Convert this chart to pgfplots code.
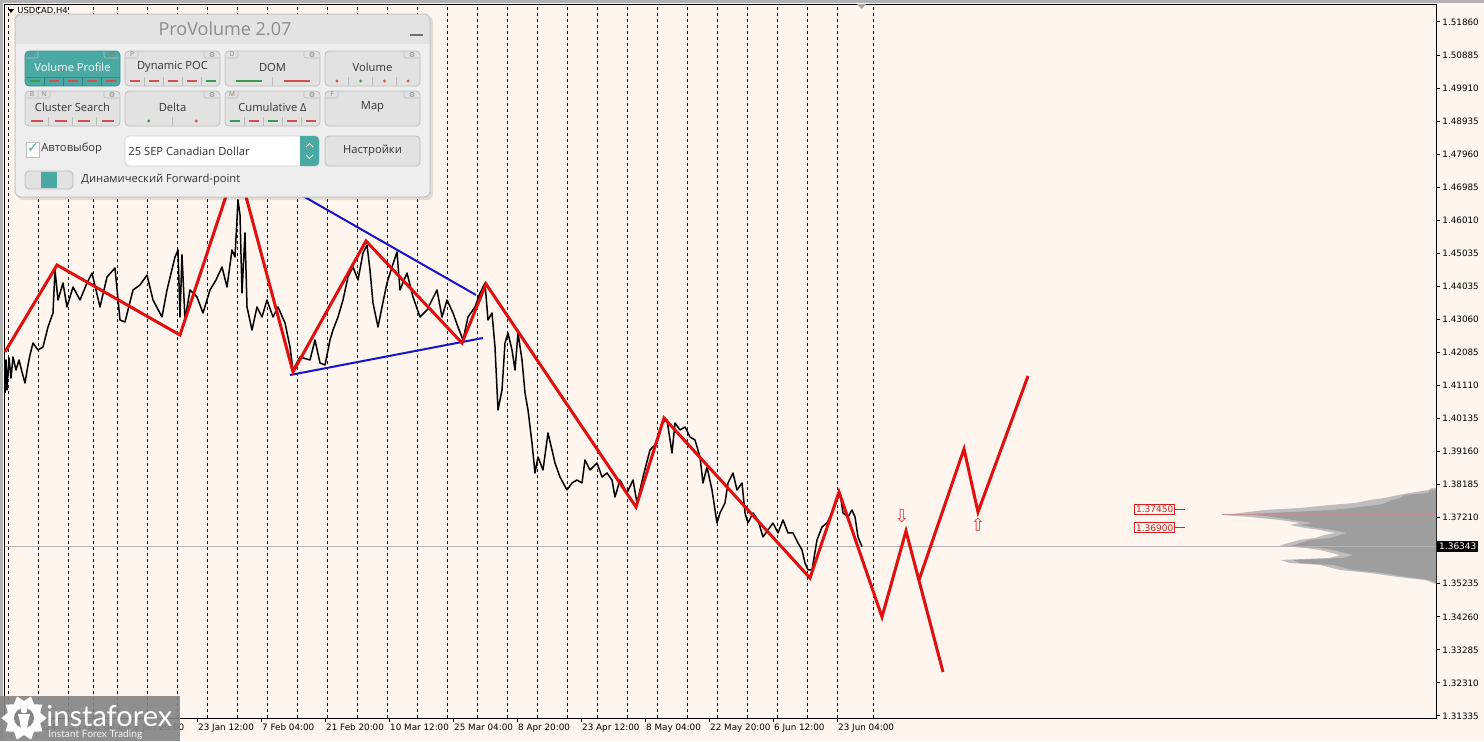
\documentclass[border=0pt]{standalone}
\usepackage{pgfplots}
\pgfplotsset{compat=1.18}
\usepackage{fontspec}
\usetikzlibrary{shapes.geometric}
\setmainfont{DejaVu Sans}
\newfontfamily\dvs{DejaVu Sans}
\newfontfamily\pfont{Open Sans}
\newfontfamily\lfont{Lato}
\newcommand{\fs}[1]{\fontsize{#1}{#1}\selectfont}
\definecolor{bg}{HTML}{FDF5EE}
\definecolor{zzred}{HTML}{E01010}
\definecolor{tlblue}{HTML}{1414CC}
\definecolor{prof}{HTML}{9E9E9E}
\definecolor{proflt}{HTML}{BDBDBD}
\definecolor{poc}{HTML}{C49090}
\definecolor{lvlred}{HTML}{D42020}
\definecolor{arrred}{HTML}{E04848}
\definecolor{pbody}{HTML}{EEEEEE}
\definecolor{phead}{HTML}{E3E3E3}
\definecolor{pborder}{HTML}{C4C4C4}
\definecolor{ptitle}{HTML}{8C8C8C}
\definecolor{pbtn}{HTML}{E2E2E2}
\definecolor{pbtnb}{HTML}{BDBDBD}
\definecolor{ptext}{HTML}{333333}
\definecolor{teal}{HTML}{4AA9A3}
\definecolor{mred}{HTML}{D05050}
\definecolor{mgreen}{HTML}{3C9A50}
\definecolor{logogray}{HTML}{858585}
\begin{document}
\begin{tikzpicture}
\begin{scope}[x=0.5pt,y=-0.5pt]
\fill[bg] (0,0) rectangle (1484,741);
\fill[gray!60] (0,0) rectangle (1484,3);
\fill[gray!60] (0,0) rectangle (3,741);
\end{scope}
\begin{axis}[
  at={(2.5pt,-359pt)}, anchor=south west,
  width=715.5pt, height=357pt, scale only axis,
  xmin=5, xmax=1436, ymin=1.31274, ymax=1.52392,
  clip=false,
  axis line style={black, line width=0.5pt},
  tick style={black, line width=0.5pt},
  major tick length=2pt, tick align=outside,
  xtick pos=bottom, ytick pos=right, yticklabel pos=right,
  /pgf/number format/assume math mode=true,
  tick label style={font=\dvs\fs{4.4pt}, inner sep=0pt},
  x tick label style={anchor=north west, xshift=0.4pt, yshift=-0.6pt},
  y tick label style={anchor=west, xshift=1pt},
  xtick={5,69,133,197,261,325,389,453,517,581,645,709,773,837},
  xticklabels={6 Dec 2024,23 Dec 04:00,8 Jan 20:00,23 Jan 12:00,7 Feb 04:00,21 Feb 20:00,10 Mar 12:00,25 Mar 04:00,8 Apr 20:00,23 Apr 12:00,8 May 04:00,22 May 20:00,6 Jun 12:00,23 Jun 04:00},
  extra x ticks={8,38,68,93,117,147,177,207,237,267,297,327,357,387,417,447,477,507,537,567,597,627,657,687,717,747,777,807,837,873},
  extra x tick labels={},
  extra x tick style={grid=major, major tick length=0pt, major grid style={black, line width=0.45pt, dash pattern=on 1.5pt off 1.5pt}},
  ytick={1.31335,1.32312,1.33290,1.34267,1.35245,1.36222,1.37199,1.38177,1.39154,1.40131,1.41109,1.42086,1.43064,1.44041,1.45018,1.45996,1.46973,1.47950,1.48928,1.49905,1.50883,1.51860},
  yticklabels={1.31335,1.32310,1.33285,1.34260,1.35235,{},1.37210,1.38185,1.39160,1.40135,1.41110,1.42085,1.43060,1.44035,1.45035,1.46010,1.46985,1.47960,1.48935,1.49910,1.50885,1.51860},
]
% volume profile (light outer layer, then main body)
\addplot[draw=none, fill=proflt] coordinates {
(1436,1.38077) (1432,1.38077) (1428,1.38018) (1410,1.37930) (1398,1.37871) (1385,1.37782)
(1370,1.37723) (1355,1.37634) (1330,1.37575) (1300,1.37486) (1265,1.37427) (1240,1.37338)
(1222,1.37279) (1250,1.37220) (1280,1.37131) (1300,1.37042) (1290,1.36983) (1305,1.36894)
(1320,1.36835) (1335,1.36747) (1325,1.36687) (1315,1.36599) (1300,1.36540) (1285,1.36421)
(1280,1.36362) (1305,1.36303) (1320,1.36244) (1340,1.36096) (1330,1.36007) (1280,1.35948)
(1290,1.35859) (1320,1.35800) (1340,1.35652) (1370,1.35563) (1398,1.35445) (1425,1.35356)
(1436,1.35238)
} -- cycle;
\addplot[draw=none, fill=prof] coordinates {
(1436,1.38018) (1430,1.38018) (1428,1.37930) (1405,1.37871) (1400,1.37782)
(1392,1.37723) (1385,1.37634) (1378,1.37575) (1350,1.37486) (1333,1.37427)
(1270,1.37338) (1240,1.37300) (1265,1.37250) (1273,1.37220) (1293,1.37131)
(1313,1.37042) (1300,1.36983) (1317,1.36894) (1333,1.36835) (1347,1.36747)
(1340,1.36687) (1330,1.36599) (1310,1.36540) (1297,1.36421) (1290,1.36362)
(1320,1.36303) (1333,1.36244) (1353,1.36096) (1343,1.36007) (1293,1.35948)
(1300,1.35859) (1333,1.35800) (1353,1.35652) (1383,1.35563) (1407,1.35445)
(1430,1.35356) (1436,1.35268)
} -- cycle;
\addplot[poc, line width=0.5pt] coordinates {(1222,1.37279) (1436,1.37279)};
% current price line
\addplot[gray!60, line width=0.5pt] coordinates {(5,1.36343) (1436,1.36343)};
% price series (H4 closes, approximated)
\addplot[black, line width=0.75pt, line join=round] coordinates {
(5,1.40887) (6,1.41863) (7,1.40976) (9,1.41923) (11,1.41331) (13,1.41952) (16,1.41568)
(19,1.41863) (22,1.41508) (25,1.41183) (28,1.41715) (30,1.42011) (33,1.42366) (38,1.42159)
(43,1.42248) (48,1.42839) (53,1.43253) (55,1.44525) (58,1.43638) (63,1.44141) (67,1.43431)
(73,1.44022) (80,1.43638) (87,1.44141) (92,1.44437) (100,1.43431) (107,1.44318) (115,1.44584)
(120,1.43046) (125,1.42987) (133,1.43934) (140,1.44082) (147,1.44377) (153,1.43638)
(162,1.43135) (167,1.43934) (175,1.44910) (178,1.45117) (180,1.43135) (182,1.44969)
(185,1.43046) (190,1.43934) (197,1.43727) (203,1.43253) (210,1.43934) (216,1.44230)
(222,1.44614) (227,1.44022) (232,1.45117) (235,1.44910) (238,1.46596) (240,1.46152)
(242,1.43845) (245,1.45620) (247,1.43431) (252,1.42751) (257,1.43431) (262,1.43135)
(267,1.43638) (273,1.43135) (278,1.43431) (285,1.42958) (290,1.42248) (293,1.41568)
(300,1.41952) (310,1.41863) (315,1.42455) (320,1.41775) (325,1.41715) (330,1.42455)
(333,1.42751) (338,1.43135) (343,1.43638) (348,1.44318) (353,1.44614) (358,1.44230)
(363,1.45028) (367,1.45265) (370,1.44525) (373,1.43549) (378,1.42839) (382,1.43431)
(387,1.44141) (392,1.44614) (397,1.45058) (400,1.43934) (407,1.44437) (413,1.43727)
(420,1.43135) (427,1.43342) (437,1.43934) (442,1.43135) (447,1.43638) (453,1.43253)
(458,1.42839) (463,1.42455) (468,1.43135) (475,1.43431) (480,1.43845) (485,1.44141)
(488,1.43046) (492,1.43253) (495,1.42248) (498,1.40385) (502,1.40976) (505,1.42366)
(508,1.42662) (512,1.42159) (515,1.41568) (518,1.42662) (522,1.41863) (525,1.40887)
(528,1.40385) (532,1.39408) (535,1.38521) (538,1.38994) (543,1.38610) (548,1.39704)
(552,1.39201) (555,1.38817) (560,1.38403) (567,1.38018) (572,1.38225) (577,1.38314)
(582,1.38225) (585,1.38906) (590,1.38610) (597,1.38817) (602,1.38403) (607,1.38521)
(612,1.38314) (615,1.37811) (620,1.38314) (627,1.37930) (633,1.38314) (637,1.37634)
(643,1.38403) (650,1.39201) (657,1.39408) (662,1.40000) (667,1.40089) (672,1.39113)
(675,1.40000) (680,1.39793) (685,1.39882) (690,1.39586) (695,1.39497) (700,1.38994)
(703,1.38225) (707,1.38699) (712,1.38018) (717,1.37042) (720,1.37338) (725,1.37634)
(728,1.38225) (733,1.38521) (737,1.38018) (742,1.38225) (745,1.37338) (748,1.37042)
(753,1.37338) (758,1.37131) (763,1.36628) (768,1.36835) (773,1.37042) (778,1.36747)
(783,1.37131) (788,1.36747) (793,1.36747) (798,1.36451) (802,1.36244) (805,1.35859)
(808,1.35652) (812,1.35652) (817,1.36540) (822,1.36924) (827,1.37042) (832,1.37338)
(837,1.37723) (840,1.37930) (843,1.37338) (848,1.37220) (852,1.37427) (855,1.37220)
(858,1.36628) (862,1.36343)
};
% blue trend lines
\addplot[tlblue, line width=1pt] coordinates {(240,1.47778) (476,1.43786)};
\addplot[tlblue, line width=1pt] coordinates {(290,1.41419) (483,1.42514)};
% red zigzag
\addplot[zzred, line width=1.5pt, line join=miter] coordinates {
(5,1.42100) (57,1.44673) (180,1.42602) (237,1.47690) (293,1.41508) (366,1.45383)
(462,1.42366) (486,1.44111) (636,1.37515) (664,1.40148) (810,1.35415) (839,1.37959)
(882,1.34262) (906,1.36805) (943,1.32635)};
\addplot[zzred, line width=1.5pt, line join=miter] coordinates {
(919,1.35356) (964,1.39231) (978,1.37367) (1028,1.41390)};
% arrows
\node[text=arrred, font=\dvs\fs{9pt}, inner sep=0pt] at (axis cs:902,1.37249) {⇩};
\node[text=arrred, font=\dvs\fs{9pt}, inner sep=0pt] at (axis cs:978,1.36983) {⇧};
% level labels
\node[draw=lvlred, text=lvlred, fill=bg, line width=0.5pt, inner xsep=0.6pt, inner ysep=0.7pt, font=\dvs\fs{4.5pt}, anchor=east] at (axis cs:1175,1.37450) {1.37450};
\draw[lvlred, line width=0.5pt] (axis cs:1175,1.37450) -- (axis cs:1185,1.37450);
\node[draw=lvlred, text=lvlred, fill=bg, line width=0.5pt, inner xsep=0.6pt, inner ysep=0.7pt, font=\dvs\fs{4.5pt}, anchor=east] at (axis cs:1175,1.36900) {1.36900};
\draw[lvlred, line width=0.5pt] (axis cs:1175,1.36900) -- (axis cs:1185,1.36900);
% price tag
\node[fill=black, text=white, inner xsep=1pt, inner ysep=0.9pt, font=\dvs\fs{4.5pt}, anchor=west, xshift=0.4pt] at (axis cs:1436,1.36343) {1.36343};
\end{axis}
\begin{scope}[x=0.5pt,y=-0.5pt]
% symbol label
\fill[black] (8,9) -- (14,9) -- (11,13) -- cycle;
\node[anchor=west, inner sep=0pt, font=\dvs\fs{4.2pt}] at (17,11) {USDCAD,H4};
\fill[gray!70] (857,4) -- (866,4) -- (861.5,9) -- cycle;
% panel
\fill[black, opacity=0.10, rounded corners=3pt] (17,16) rectangle (433,200);
\fill[pbody, rounded corners=3pt] (15,14) rectangle (430,197);
\begin{scope}
\clip[rounded corners=3pt] (15,14) rectangle (430,197);
\fill[phead] (15,14) rectangle (430,44);
\end{scope}
\draw[pborder, line width=0.5pt, rounded corners=3pt] (15,14) rectangle (430,197);
\node[text=ptitle, font=\pfont\fs{9pt}] at (225,29) {ProVolume 2.07};
\draw[ptitle!80!black, line width=0.9pt] (410,35) -- (423,35);
% row 1 buttons
\filldraw[fill=teal, draw=teal!85!black, line width=0.4pt, rounded corners=2pt] (25,51) rectangle (120,86);
\node[font=\pfont\fs{5.6pt}, text=white] at (72.5,67) {Volume Profile};
\foreach \x/\lab in {125/Dynamic POC,225/DOM,325/Volume}{
  \filldraw[fill=pbtn, draw=pbtnb, line width=0.4pt, rounded corners=2pt] (\x,51) rectangle ({\x+95},86);
  \node[font=\pfont\fs{5.6pt}, text=ptext] at ({\x+47.5},67) {\lab};
}
\foreach \x/\lab in {25/Cluster Search,125/Delta,225/Cumulative Δ,325/Map}{
  \filldraw[fill=pbtn, draw=pbtnb, line width=0.4pt, rounded corners=2pt] (\x,91) rectangle ({\x+95},126);
  \node[font=\pfont\fs{5.6pt}, text=ptext] at ({\x+47.5},107) {\lab};
}
% gear tabs
\foreach \x/\y in {25/51,125/51,225/51,325/51,25/91,125/91,225/91,325/91}{
  \draw[pbtnb, line width=0.3pt, rounded corners=1pt] ({\x+79},\y) -- ({\x+79},{\y+7}) -- ({\x+94},{\y+7});
  \node[font=\dvs\fs{3.6pt}, text=gray, inner sep=0pt] at ({\x+87},{\y+3.6}) {⚙};
}
% letter tabs
\foreach \x/\y/\t in {25/51/V,125/51/P,225/51/D,25/91/B,37/91/N,225/91/M,325/91/F}{
  \draw[pbtnb, line width=0.3pt, rounded corners=1pt] ({\x+1},{\y+7}) -- ({\x+13},{\y+7}) -- ({\x+13},\y);
  \node[font=\pfont\fs{3.3pt}, text=gray, inner sep=0pt] at ({\x+7},{\y+3.6}) {\t};
}
% strips row 1
\foreach \s in {44,63,82,101}{\draw[teal!75!black, line width=0.3pt] (\s,77) -- (\s,86);}
\draw[teal!80!black, line width=0.3pt] (25,77) -- (120,77);
\foreach \c/\m in {mgreen/34.5,mred/53.5,mred/72.5,mred/91.5,mred/110.5}{\draw[\c, line width=0.6pt] ({\m-5},81) -- ({\m+5},81);}
\foreach \s in {144,163,182,201}{\draw[pbtnb, line width=0.3pt] (\s,77) -- (\s,86);}
\foreach \c/\m in {mred/134.5,mred/153.5,mred/172.5,mred/191.5,mgreen/210.5}{\draw[\c, line width=0.6pt] ({\m-5},81) -- ({\m+5},81);}
\draw[pbtnb, line width=0.3pt] (272.5,77) -- (272.5,86);
\draw[mgreen, line width=0.6pt] (236,81) -- (262,81);
\draw[mred, line width=0.6pt] (284,81) -- (310,81);
\foreach \s in {348.75,372.5,396.25}{\draw[pbtnb, line width=0.3pt] (\s,77) -- (\s,86);}
\foreach \c/\m in {mred/336.9,mgreen/360.6,mred/384.4,mred/408.1}{\fill[\c] (\m,81) circle (0.8pt);}
% strips row 2
\foreach \s in {48.75,72.5,96.25}{\draw[pbtnb, line width=0.3pt] (\s,117) -- (\s,126);}
\foreach \m in {36.9,60.6,84.4,108.1}{\draw[mred, line width=0.6pt] ({\m-6},121) -- ({\m+6},121);}
\draw[pbtnb, line width=0.3pt] (172.5,117) -- (172.5,126);
\fill[mgreen] (148.75,121) circle (0.8pt);
\fill[mred] (196.25,121) circle (0.8pt);
\foreach \s in {244,263,282,301}{\draw[pbtnb, line width=0.3pt] (\s,117) -- (\s,126);}
\foreach \c/\m in {mgreen/234.5,mred/253.5,mgreen/272.5,mred/291.5,mred/310.5}{\draw[\c, line width=0.6pt] ({\m-5},121) -- ({\m+5},121);}
% checkbox row
\filldraw[fill=white, draw=pbtnb, line width=0.4pt] (26,142) rectangle (39,157);
\node[font=\dvs\fs{7pt}, text=teal, inner sep=0pt] at (33,148) {✓};
\node[anchor=west, font=\pfont\fs{5.6pt}, text=ptext, inner sep=0pt] at (41,149) {Автовыбор};
\filldraw[fill=white, draw=pbtnb!70, line width=0.4pt, rounded corners=2pt] (125,136) rectangle (319,166);
\fill[teal, rounded corners=2pt] (300,136) rectangle (319,166);
\fill[teal] (300,136) rectangle (305,166);
\draw[white, line width=0.5pt] (306,147) -- (309.5,143.5) -- (313,147);
\draw[white, line width=0.5pt] (306,155) -- (309.5,158.5) -- (313,155);
\node[anchor=west, font=\pfont\fs{5.6pt}, text=ptext, inner sep=0pt] at (128,151) {25 SEP Canadian Dollar};
\filldraw[fill=pbtn, draw=pbtnb, line width=0.4pt, rounded corners=2pt] (325,136) rectangle (420,166);
\node[font=\pfont\fs{5.6pt}, text=ptext] at (372.5,151) {Настройки};
% toggle
\filldraw[fill=pbtn, draw=pbtnb, line width=0.4pt, rounded corners=2pt] (25,171) rectangle (73,189);
\fill[teal] (41,172) rectangle (57,188);
\node[anchor=west, font=\pfont\fs{5.6pt}, text=ptext, inner sep=0pt] at (81,180) {Динамический Forward-point};
% logo
\fill[logogray, opacity=0.9] (0,696) rectangle (180,741);
\node[star, star points=10, star point ratio=0.75, fill=white, minimum size=17pt, inner sep=0pt] at (24,718) {};
\fill[logogray] (24,718) circle (5pt);
\fill[white] (24,710) circle (1.7pt);
\fill[white] (18,714) -- (30,714) -- (28,722) -- (27,731) -- (21,731) -- (20,722) -- cycle;
\node[anchor=base west, text=white, font=\lfont\fs{14.5pt}, inner sep=0pt] at (46,726) {instaforex};
\node[anchor=base west, text=white!90!gray, font=\lfont\fs{5.1pt}, inner sep=0pt] at (48,737) {Instant Forex Trading};
\end{scope}
\end{tikzpicture}
\end{document}
